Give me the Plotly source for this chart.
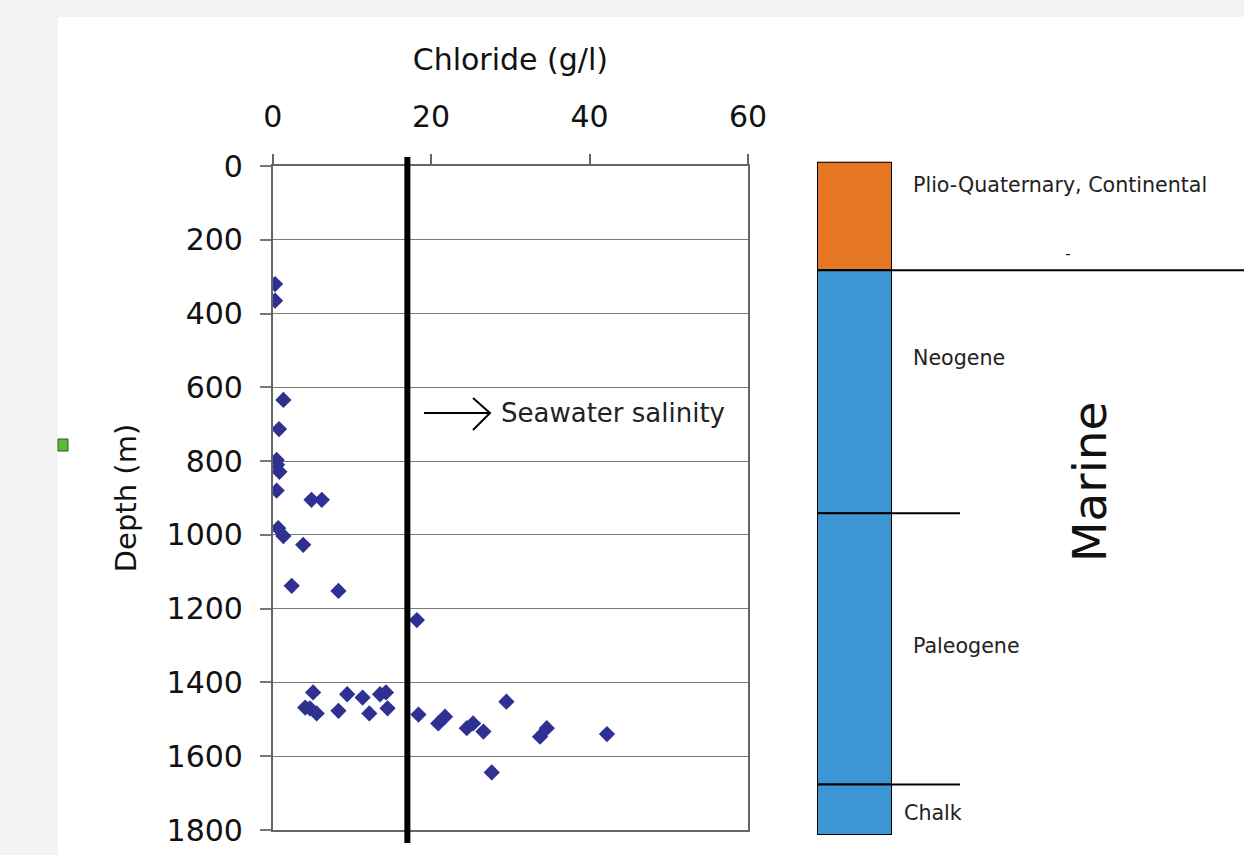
import plotly.graph_objects as go

W, H = 1244, 855


def px(x):
    return x / W


def py(y):
    return 1 - y / H


# ---------------- data ----------------
chloride = [0.3, 0.3, 1.35, 0.8, 0.5, 0.55, 0.85, 0.5, 4.9, 6.2,
            0.7, 1.35, 3.85, 2.4, 8.3, 18.2, 5.1, 4.1, 4.7, 5.55,
            8.3, 9.4, 11.35, 12.2, 13.55, 14.3, 14.5, 18.4, 20.9, 21.75,
            24.5, 25.3, 26.6, 29.5, 33.75, 34.6, 42.2, 27.65]
depth = [320, 365, 634, 713, 797, 810, 829, 880, 905, 905,
         982, 1003, 1027, 1138, 1152, 1231, 1427, 1468, 1470, 1484,
         1477, 1432, 1441, 1484, 1432, 1427, 1470, 1487, 1511, 1493,
         1524, 1511, 1533, 1452, 1547, 1524, 1540, 1644]

SEAWATER_CL = 17
X_TICKS = [0, 20, 40, 60]
Y_TICKS = [0, 200, 400, 600, 800, 1000, 1200, 1400, 1600, 1800]

STRATA = ["Plio-Quaternary, Continental", "Neogene", "Paleogene", "Chalk"]
STRATA_TOP = [0, 290, 940, 1665]
STRATA_BOTTOM = [290, 940, 1665, 1800]
STRATA_COLORS = ["#e67722", "#3c96d4", "#3c96d4", "#3c96d4"]
STRATA_LABEL_Y = [185, 358, 646, 813]   # pixel positions of labels
STRATA_LABEL_X = [911, 911, 911, 902]

FONT = "DejaVu Sans"

fig = go.Figure()

fig.add_trace(go.Scatter(
    x=chloride, y=depth, mode="markers",
    marker=dict(symbol="diamond", size=12.5, color="#2e3192"),
    showlegend=False, xaxis="x", yaxis="y", hoverinfo="x+y"))

for name, top, bot, col in zip(STRATA, STRATA_TOP, STRATA_BOTTOM, STRATA_COLORS):
    fig.add_trace(go.Bar(
        x=[0], y=[bot - top], base=[top], width=1, name=name,
        marker=dict(color=col, line=dict(color="black", width=2)),
        xaxis="x2", yaxis="y2", showlegend=False))

shapes = []
# white panel on grey page
shapes.append(dict(type="rect", xref="paper", yref="paper",
                   x0=px(58), x1=1, y0=0, y1=py(17),
                   fillcolor="white", line=dict(width=0), layer="below"))
# small green marker at left
shapes.append(dict(type="rect", xref="paper", yref="paper",
                   x0=px(58), x1=px(68), y0=py(451), y1=py(439),
                   fillcolor="#5cb83c", line=dict(color="#2a5a1a", width=1)))
# seawater salinity line
shapes.append(dict(type="line", xref="x", yref="paper",
                   x0=SEAWATER_CL, x1=SEAWATER_CL, y0=py(843), y1=py(157),
                   line=dict(color="black", width=6)))
# arrow
shapes.append(dict(type="line", xref="paper", yref="paper",
                   x0=px(424), x1=px(490), y0=py(413), y1=py(413),
                   line=dict(color="black", width=2)))
shapes.append(dict(type="path", xref="paper", yref="paper",
                   path=f"M {px(473)},{py(398)} L {px(490)},{py(413)} L {px(473)},{py(430)}",
                   line=dict(color="black", width=2)))
# strata boundary lines
for i, b in enumerate(STRATA_BOTTOM[:-1]):
    x_end = 1 if i == 0 else px(960)
    shapes.append(dict(type="line", xref="paper", yref="y2",
                       x0=px(892), x1=x_end, y0=b, y1=b,
                       line=dict(color="black", width=2)))

annotations = []
annotations.append(dict(text="Seawater salinity", xref="paper", yref="paper",
                        x=px(499), y=py(413), xanchor="left", yanchor="middle",
                        showarrow=False, font=dict(family=FONT, size=26, color="#222")))
for name, lx, ly in zip(STRATA, STRATA_LABEL_X, STRATA_LABEL_Y):
    annotations.append(dict(text=name, xref="paper", yref="paper",
                            x=px(lx), y=py(ly), xanchor="left", yanchor="middle",
                            showarrow=False, font=dict(family=FONT, size=20.6, color="#222")))
annotations.append(dict(text="-", xref="paper", yref="paper",
                        x=px(1068), y=py(253), xanchor="center", yanchor="middle",
                        showarrow=False, font=dict(family=FONT, size=16, color="#222")))
annotations.append(dict(text="Marine", xref="paper", yref="paper",
                        x=px(1089), y=py(482), xanchor="center", yanchor="middle",
                        textangle=-90, showarrow=False,
                        font=dict(family=FONT, size=47, color="#111")))

fig.update_layout(
    width=W, height=H, autosize=False,
    margin=dict(l=0, r=0, t=0, b=0),
    paper_bgcolor="#f2f3f3",
    plot_bgcolor="rgba(0,0,0,0)",
    font=dict(family=FONT, color="#111"),
    showlegend=False,
    barmode="overlay",
    xaxis=dict(domain=[px(272.7), px(748)], range=[0, 60], side="top",
               tickvals=X_TICKS, ticks="outside", ticklen=10,
               tickcolor="#666", tickwidth=1.5,
               showline=True, linecolor="#666", linewidth=1.5, mirror=True,
               showgrid=False, zeroline=False, automargin=False,
               tickfont=dict(family=FONT, size=30, color="#111"),
               ticklabelstandoff=15,
               title=dict(text="Chloride (g/l)", standoff=20,
                          font=dict(family=FONT, size=30, color="#111"))),
    yaxis=dict(domain=[py(830), py(166)], range=[1800, 0],
               tickvals=Y_TICKS, ticks="outside", ticklen=11,
               tickcolor="#777", tickwidth=1.5,
               showgrid=True, gridcolor="#7a7a7a", gridwidth=1.4,
               showline=True, linecolor="#666", linewidth=1.5, mirror=True,
               zeroline=False, automargin=False,
               tickfont=dict(family=FONT, size=30, color="#111"),
               ticklabelstandoff=11,
               title=dict(text="Depth (m)", standoff=21,
                          font=dict(family=FONT, size=29, color="#111"))),
    xaxis2=dict(domain=[px(817), px(892)], range=[-0.5, 0.5], anchor="y2",
                visible=False, fixedrange=True),
    yaxis2=dict(domain=[py(835), py(161.7)], range=[1800, 0], anchor="x2",
                visible=False, fixedrange=True),
    shapes=shapes,
    annotations=annotations,
)

fig.write_html("out.html")
